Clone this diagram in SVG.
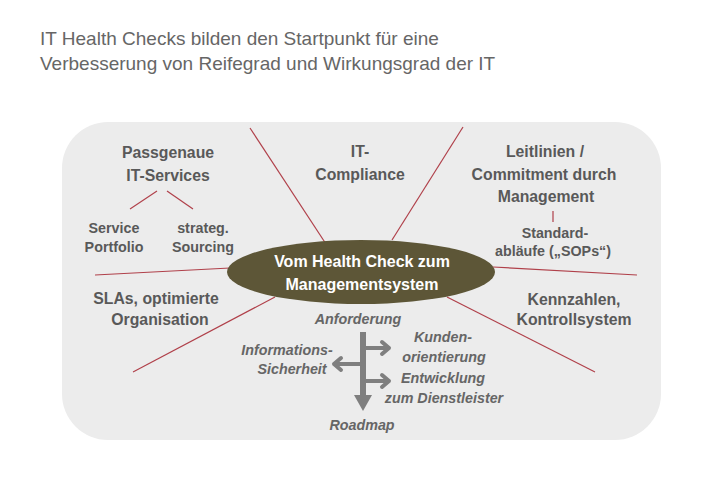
<svg xmlns="http://www.w3.org/2000/svg" width="720" height="498" viewBox="0 0 720 498">
<style>
.title{font-family:"Liberation Sans",Arial,sans-serif;font-size:19px;fill:#666666}
.lbl{font-family:"Liberation Sans",Arial,sans-serif;font-size:15.8px;font-weight:bold;fill:#595959;text-anchor:middle}
.sm{font-family:"Liberation Sans",Arial,sans-serif;font-size:14.3px;font-weight:bold;fill:#595959;text-anchor:middle}
.it{font-family:"Liberation Sans",Arial,sans-serif;font-size:14.3px;font-weight:bold;font-style:italic;fill:#666666;text-anchor:middle}
.core{font-family:"Liberation Sans",Arial,sans-serif;font-size:16px;font-weight:bold;fill:#ffffff;text-anchor:middle}
.ray{stroke:#b0404a;stroke-width:1.2;fill:none}
.arw{stroke:#7f7f7f;stroke-width:4;fill:none;stroke-linecap:round;stroke-linejoin:round}
</style>
<rect width="720" height="498" fill="#ffffff"/>
<g id="title">
<text class="title" x="40" y="45">IT Health Checks bilden den Startpunkt für eine</text>
<text class="title" x="40" y="70">Verbesserung von Reifegrad und Wirkungsgrad der IT</text>
</g>
<rect id="panel" x="62" y="122" width="599" height="318" rx="46" ry="46" fill="#ececec"/>
<g id="connectors">
<line class="ray" x1="250" y1="128" x2="326" y2="244"/>
<line class="ray" x1="463" y1="127" x2="392" y2="240"/>
<line class="ray" x1="95" y1="275" x2="230" y2="268"/>
<line class="ray" x1="133" y1="372" x2="275" y2="297"/>
<line class="ray" x1="493" y1="267" x2="637" y2="275"/>
<line class="ray" x1="447" y1="297" x2="595" y2="372"/>
<line class="ray" x1="130" y1="209" x2="157" y2="191"/>
<line class="ray" x1="167" y1="191" x2="193" y2="209"/>
<line class="ray" x1="553" y1="211" x2="553" y2="222"/>
</g>
<g id="core">
<ellipse cx="361" cy="272" rx="134" ry="32" fill="#5d5637"/>
<text class="core" x="362" y="267">Vom Health Check zum</text>
<text class="core" x="362" y="290">Managementsystem</text>
</g>
<g id="n-passgenaue">
<text class="lbl" x="168" y="158">Passgenaue</text>
<text class="lbl" x="168" y="181">IT-Services</text>
</g>
<g id="n-service">
<text class="sm" x="114" y="233">Service</text>
<text class="sm" x="114" y="252">Portfolio</text>
</g>
<g id="n-sourcing">
<text class="sm" x="203" y="233">strateg.</text>
<text class="sm" x="203" y="252">Sourcing</text>
</g>
<g id="n-compliance">
<text class="lbl" x="360" y="157">IT-</text>
<text class="lbl" x="360" y="180">Compliance</text>
</g>
<g id="n-leitlinien">
<text class="lbl" x="545" y="157">Leitlinien /</text>
<text class="lbl" x="544" y="180">Commitment durch</text>
<text class="lbl" x="546" y="202">Management</text>
</g>
<g id="n-sops">
<text class="sm" x="555" y="238">Standard-</text>
<text class="sm" x="553" y="256">abläufe („SOPs“)</text>
</g>
<g id="n-slas">
<text class="lbl" x="156" y="304">SLAs, optimierte</text>
<text class="lbl" x="160" y="325">Organisation</text>
</g>
<g id="n-kennzahlen">
<text class="lbl" x="574" y="305">Kennzahlen,</text>
<text class="lbl" x="574" y="325">Kontrollsystem</text>
</g>
<g id="roadmap">
<text class="it" x="358" y="324">Anforderung</text>
<text class="it" x="287" y="355">Informations-</text>
<text class="it" x="292" y="374">Sicherheit</text>
<text class="it" x="443" y="342">Kunden-</text>
<text class="it" x="444" y="362">orientierung</text>
<text class="it" x="443" y="383">Entwicklung</text>
<text class="it" x="444" y="403">zum Dienstleister</text>
<text class="it" x="362" y="430">Roadmap</text>
<line x1="363" y1="332" x2="363" y2="396" stroke="#7f7f7f" stroke-width="6"/>
<polygon points="354,395 372,395 363,411" fill="#7f7f7f"/>
<path class="arw" d="M366,348 H389 M382,342 L389,348 L382,354"/>
<path class="arw" d="M366,381 H389 M382,375 L389,381 L382,387"/>
<path class="arw" d="M360,364 H334 M341,358 L334,364 L341,370"/>
</g>
</svg>
